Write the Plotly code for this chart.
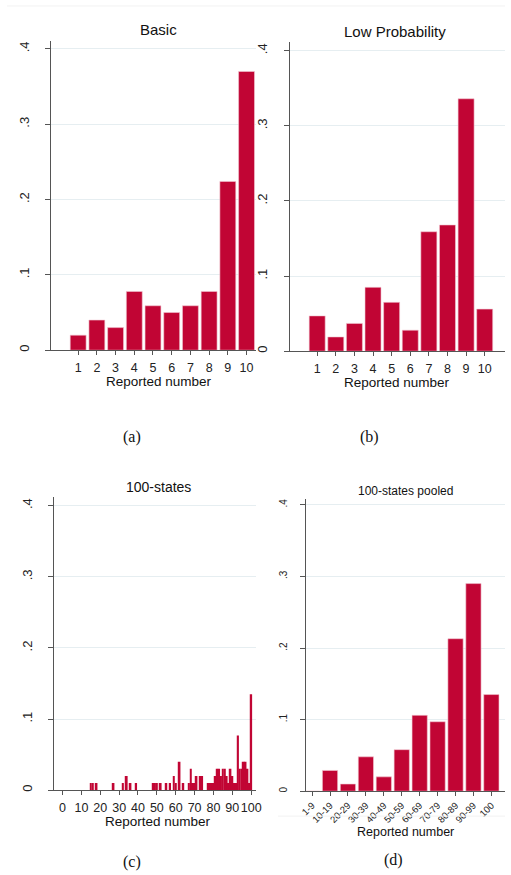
import plotly.graph_objects as go

# ---------------- data ----------------
basic_numbers = [1, 2, 3, 4, 5, 6, 7, 8, 9, 10]
basic_shares = [0.02, 0.04, 0.03, 0.078, 0.059, 0.05, 0.059, 0.078, 0.224, 0.37]

lowprob_numbers = [1, 2, 3, 4, 5, 6, 7, 8, 9, 10]
lowprob_shares = [0.047, 0.019, 0.037, 0.085, 0.065, 0.028, 0.159, 0.168, 0.336, 0.056]

states_numbers = [15, 16, 18, 27, 32, 34, 36, 39, 48, 49, 50, 52, 55, 57, 59, 60,
                  62, 64, 67, 68, 69, 70, 71, 73, 74, 77, 78, 79, 80, 81, 82, 83,
                  84, 85, 86, 87, 88, 89, 90, 91, 92, 93, 94, 95, 96, 97, 98, 99, 100]
states_shares = [0.01, 0.01, 0.01, 0.01, 0.01, 0.02, 0.01, 0.01, 0.01, 0.01, 0.01,
                 0.01, 0.01, 0.01, 0.02, 0.01, 0.04, 0.01, 0.01, 0.03, 0.01, 0.01,
                 0.02, 0.02, 0.02, 0.01, 0.01, 0.01, 0.01, 0.02, 0.03, 0.03, 0.02,
                 0.03, 0.03, 0.02, 0.01, 0.03, 0.02, 0.01, 0.01, 0.077, 0.03, 0.03,
                 0.04, 0.04, 0.03, 0.01, 0.135]

pooled_labels = ["1-9", "10-19", "20-29", "30-39", "40-49", "50-59",
                 "60-69", "70-79", "80-89", "90-99", "100"]
pooled_shares = [0.0, 0.029, 0.01, 0.048, 0.02, 0.058, 0.106, 0.097, 0.213, 0.29, 0.135]

y_tickvals = [0, 0.1, 0.2, 0.3, 0.4]
y_ticktext = ["0", ".1", ".2", ".3", ".4"]
panel_titles = ["Basic", "Low Probability", "100-states", "100-states pooled"]
panel_letters = ["(a)", "(b)", "(c)", "(d)"]
x_title = "Reported number"

# ---------------- style ----------------
W, H = 511, 875
RED = "#C10534"
AXIS = "#555555"
GRID = "#E6EEF1"
SANS = "Liberation Sans, Arial, sans-serif"
SERIF = "Liberation Serif, Times New Roman, serif"


def px(x):
    return x / W


def py(y):
    return 1 - y / H


fig = go.Figure()
bar_line = dict(width=0.6, color="#F1C9D3")
fig.add_bar(x=basic_numbers, y=basic_shares, width=0.85, marker=dict(color=RED, line=bar_line),
            xaxis="x", yaxis="y")
fig.add_bar(x=lowprob_numbers, y=lowprob_shares, width=0.86, marker=dict(color=RED, line=bar_line),
            xaxis="x2", yaxis="y2")
fig.add_bar(x=states_numbers, y=states_shares, width=1.0,
            marker=dict(color=RED, line=dict(width=0)),
            xaxis="x3", yaxis="y3")
fig.add_bar(x=list(range(len(pooled_labels))), y=pooled_shares, width=0.85,
            marker=dict(color=RED, line=bar_line), xaxis="x4", yaxis="y4")


def yaxis(top_px, bottom_px, per01, anchor, fsize=13, standoff=11):
    top_val = (bottom_px - top_px) / per01 * 0.1
    return dict(domain=[py(bottom_px), py(top_px)], range=[0, top_val], anchor=anchor,
                tickvals=y_tickvals, ticktext=y_ticktext, tickangle=-90,
                showgrid=True, gridcolor=GRID, gridwidth=1.2, zeroline=False,
                showline=True, linecolor=AXIS, linewidth=1, ticks="outside", ticklen=5,
                tickcolor=AXIS, tickfont=dict(family=SANS, size=fsize, color="#222"),
                ticklabelstandoff=standoff, fixedrange=True)


def xaxis(left_px, right_px, rng, anchor, **kw):
    d = dict(domain=[px(left_px), px(right_px)], range=rng, anchor=anchor,
             showgrid=False, zeroline=False, showline=True, linecolor=AXIS, linewidth=1,
             ticks="outside", ticklen=4, tickcolor=AXIS, tickangle=0,
             ticklabelstandoff=2,
             tickfont=dict(family=SANS, size=12.5, color="#222"), fixedrange=True)
    d.update(kw)
    return d


fig.update_layout(
    width=W, height=H, margin=dict(l=0, r=0, t=0, b=0),
    paper_bgcolor="white", plot_bgcolor="white", showlegend=False, hovermode=False,
    xaxis=xaxis(45, 255, [-0.46, 10.48], "y", tickvals=basic_numbers),
    yaxis=yaxis(41, 351, 75.5, "x"),
    xaxis2=xaxis(290, 511, [-0.48, 11.09], "y2", tickvals=lowprob_numbers),
    yaxis2=yaxis(42, 352, 75.3, "x2"),
    xaxis3=xaxis(48, 255, [-4.65, 102.3], "y3", tickvals=list(range(0, 101, 10))),
    yaxis3=yaxis(498, 792, 71.3, "x3"),
    xaxis4=xaxis(307, 511, [-0.33, 10.76], "y4", tickvals=list(range(len(pooled_labels))),
                 ticktext=pooled_labels, tickangle=-45, ticklabelstandoff=0,
                 tickfont=dict(family=SANS, size=9.5, color="#222")),
    yaxis4=yaxis(500, 793, 71.75, "x4", fsize=10, standoff=9),
)

annotations = []


def ann(text, x, y, size, family=SANS):
    annotations.append(dict(text=text, x=px(x), y=py(y), xref="paper", yref="paper",
                            showarrow=False, xanchor="center", yanchor="middle",
                            font=dict(family=family, size=size, color="#111")))


ann(panel_titles[0], 155, 30, 15)
ann(panel_titles[1], 398, 32, 15)
ann(panel_titles[2], 155, 488, 14)
ann(panel_titles[3], 409, 492, 12)
ann(x_title, 156, 382, 13.5)
ann(x_title, 400, 383, 13.5)
ann(x_title, 155, 823, 13.5)
ann(x_title, 409, 834, 12.5)
ann(panel_letters[0], 128, 438, 16, SERIF)
ann(panel_letters[1], 372, 438, 16, SERIF)
ann(panel_letters[2], 128, 864, 16, SERIF)
ann(panel_letters[3], 397, 862, 16, SERIF)
fig.update_layout(annotations=annotations)

fig.add_shape(type="line", xref="paper", yref="paper", x0=0, x1=1, y0=py(6), y1=py(6),
              line=dict(color="#F2F2F2", width=1))
fig.add_shape(type="line", xref="paper", yref="paper", x0=px(278), x1=1, y0=py(818), y1=py(818),
              line=dict(color="#F2F2F2", width=1))

fig.write_html("out.html", config={"displayModeBar": False},
               post_script="document.body.style.margin='0';document.body.style.overflow='hidden';")
